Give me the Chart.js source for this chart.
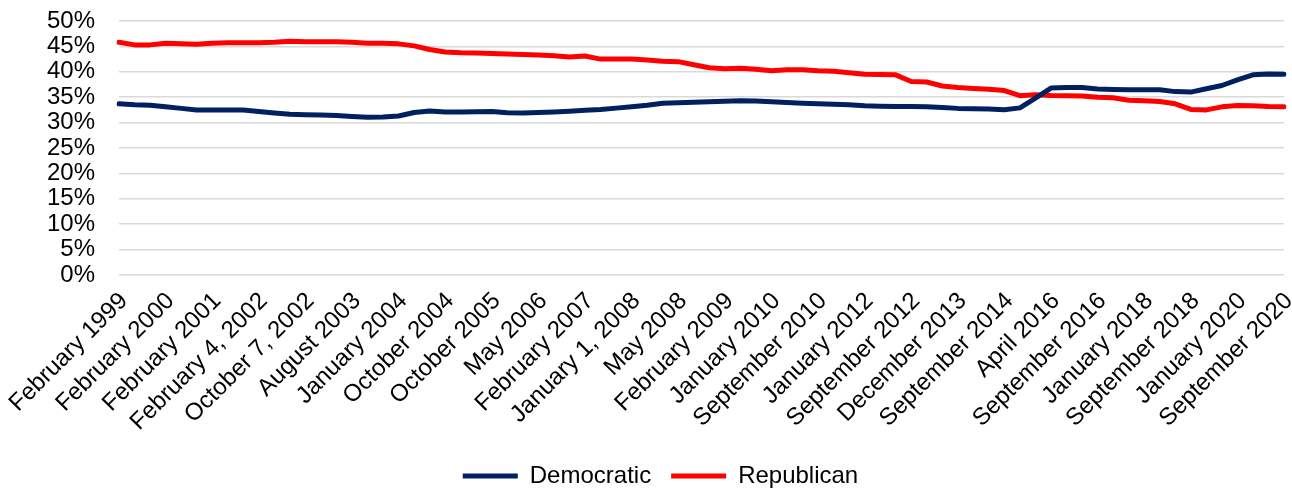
<!DOCTYPE html>
<html>
<head>
<meta charset="utf-8">
<script src="https://cdn.jsdelivr.net/npm/chart.js@4.4.1/dist/chart.umd.min.js"></script>
<style>
  html, body { margin: 0; padding: 0; background: #ffffff; }
  #wrap { width: 1292px; height: 489px; }
</style>
</head>
<body>
<div id="wrap"><canvas id="chart" width="1292" height="489"></canvas></div>
<script>
// Party identification share (%) by survey wave, Feb 1999 – Sep 2020
const democratic = [
  33.7, 33.5, 33.4, 33.1, 32.8, 32.5, 32.5, 32.5, 32.5, 32.2,
  31.9, 31.65, 31.55, 31.5, 31.4, 31.2, 31.05, 31.1, 31.3, 32.0,
  32.3, 32.1, 32.1, 32.15, 32.2, 31.95, 31.9, 32.0, 32.1, 32.25,
  32.45, 32.6, 32.85, 33.1, 33.4, 33.8, 33.9, 34.0, 34.1, 34.2,
  34.3, 34.25, 34.1, 33.95, 33.8, 33.7, 33.6, 33.5, 33.3, 33.2,
  33.15, 33.15, 33.1, 32.95, 32.8, 32.75, 32.7, 32.55, 32.9, 34.8,
  36.8, 36.9, 36.9, 36.6, 36.5, 36.45, 36.45, 36.45, 36.1, 36.0,
  36.65, 37.3, 38.4, 39.4, 39.55, 39.5
];
const republican = [
  45.8, 45.3, 45.3, 45.6, 45.5, 45.4, 45.6, 45.7, 45.7, 45.7,
  45.8, 46.0, 45.9, 45.9, 45.9, 45.8, 45.6, 45.6, 45.5, 45.1,
  44.4, 43.9, 43.75, 43.7, 43.6, 43.5, 43.4, 43.3, 43.15, 42.9,
  43.1, 42.5, 42.5, 42.5, 42.3, 42.1, 42.0, 41.4, 40.8, 40.6,
  40.7, 40.5, 40.2, 40.4, 40.4, 40.2, 40.1, 39.8, 39.5, 39.45,
  39.4, 38.1, 38.0, 37.2, 36.9, 36.7, 36.55, 36.3, 35.3, 35.5,
  35.35, 35.3, 35.25, 35.0, 34.9, 34.4, 34.3, 34.15, 33.7, 32.6,
  32.5, 33.1, 33.35, 33.3, 33.15, 33.1
];
// Axis labels shown on every third survey wave
const tickLabels = [
  'February 1999', 'February 2000', 'February 2001', 'February 4, 2002',
  'October 7, 2002', 'August 2003', 'January 2004', 'October 2004',
  'October 2005', 'May 2006', 'February 2007', 'January 1, 2008',
  'May 2008', 'February 2009', 'January 2010', 'September 2010',
  'January 2012', 'September 2012', 'December 2013', 'September 2014',
  'April 2016', 'September 2016', 'January 2018', 'September 2018',
  'January 2020', 'September 2020'
];
const yTicks = [0, 5, 10, 15, 20, 25, 30, 35, 40, 45, 50];
const LABEL_EVERY = 3;

const categories = democratic.map((_, i) =>
  i % LABEL_EVERY === 0 ? tickLabels[i / LABEL_EVERY] : '');

const FONT = { family: "'Liberation Sans', Arial, sans-serif", size: 24 };

new Chart(document.getElementById('chart'), {
  type: 'line',
  data: {
    labels: categories,
    datasets: [
      {
        label: 'Democratic',
        data: democratic,
        borderColor: '#002060',
        backgroundColor: '#002060',
        borderWidth: 5,
        pointRadius: 0,
        pointStyle: 'line',
        tension: 0,
        borderCapStyle: 'round',
        borderJoinStyle: 'round'
      },
      {
        label: 'Republican',
        data: republican,
        borderColor: '#ff0000',
        backgroundColor: '#ff0000',
        borderWidth: 5,
        pointRadius: 0,
        pointStyle: 'line',
        tension: 0,
        borderCapStyle: 'round',
        borderJoinStyle: 'round'
      }
    ]
  },
  options: {
    responsive: false,
    animation: false,
    events: [],
    layout: { padding: { top: 21, right: 8, left: 37, bottom: -9 } },
    plugins: {
      tooltip: { enabled: false },
      legend: {
        position: 'bottom',
        labels: {
          usePointStyle: true,
          pointStyleWidth: 55,
          boxHeight: 24,
          padding: 20,
          color: '#000000',
          font: FONT
        }
      }
    },
    scales: {
      x: {
        offset: false,
        grid: { display: false, drawTicks: false },
        border: { display: false },
        afterFit: (scale) => {
          scale.height = 169;
          scale.paddingLeft = 0;
          scale.paddingRight = 0;
        },
        ticks: {
          autoSkip: false,
          minRotation: 45,
          maxRotation: 45,
          padding: 12,
          labelOffset: 5,
          color: '#000000',
          font: FONT
        }
      },
      y: {
        min: yTicks[0],
        max: yTicks[yTicks.length - 1],
        afterBuildTicks: (scale) => { scale.ticks = yTicks.map(v => ({ value: v })); },
        afterFit: (scale) => {
          scale.width = 82;
          scale.paddingTop = 0;
          scale.paddingBottom = 0;
        },
        grid: { color: '#d9d9d9', lineWidth: 1.5, drawTicks: false },
        border: { display: false },
        ticks: {
          autoSkip: false,
          padding: 24,
          color: '#000000',
          font: FONT,
          callback: (v) => v + '%'
        }
      }
    }
  }
});
</script>
</body>
</html>
